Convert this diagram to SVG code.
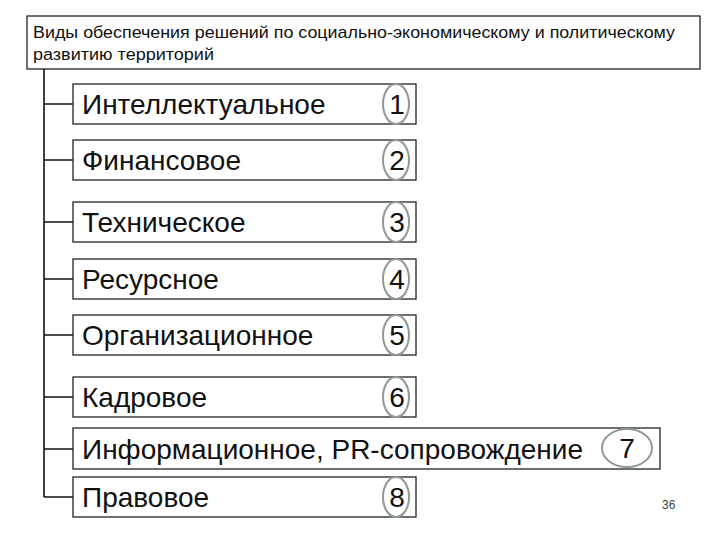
<svg xmlns="http://www.w3.org/2000/svg" width="720" height="540" viewBox="0 0 720 540">
<style>
.box{fill:#fff;stroke:#222;stroke-width:1.3}
.ring{fill:none;stroke:#8e9a92;stroke-width:2}
.t{font-family:"Liberation Sans",Arial,sans-serif;font-size:28px;fill:#111}
.n{font-family:"Liberation Sans",Arial,sans-serif;font-size:28px;fill:#111;text-anchor:middle}
.h{font-family:"Liberation Sans",Arial,sans-serif;font-size:17px;fill:#111}
.c{stroke:#111;stroke-width:1.6;fill:none}
</style>
<rect width="720" height="540" fill="#fff"/>
<g id="title">
<rect class="box" x="27" y="16" width="673" height="53"/>
<text class="h" x="33" y="38" textLength="642" lengthAdjust="spacingAndGlyphs">Виды обеспечения решений по социально-экономическому и политическому</text>
<text class="h" x="33" y="60" textLength="181" lengthAdjust="spacingAndGlyphs">развитию территорий</text>
</g>
<g id="connectors">
<path class="c" d="M44 69V497"/>
<path class="c" d="M44 104H73M44 160H73M44 222H73M44 279H73M44 335H73M44 397H73M44 449H73M44 497H73"/>
</g>
<g id="n1"><rect class="box" x="73" y="84" width="343" height="40"/><text class="t" x="82" y="114">Интеллектуальное</text><ellipse class="ring" cx="396" cy="104" rx="13" ry="20"/><text class="n" x="397" y="114">1</text></g>
<g id="n2"><rect class="box" x="73" y="140" width="343" height="40"/><text class="t" x="82" y="170">Финансовое</text><ellipse class="ring" cx="396" cy="160" rx="13" ry="20"/><text class="n" x="397" y="170">2</text></g>
<g id="n3"><rect class="box" x="73" y="202" width="343" height="40"/><text class="t" x="82" y="232">Техническое</text><ellipse class="ring" cx="396" cy="222" rx="13" ry="20"/><text class="n" x="397" y="232">3</text></g>
<g id="n4"><rect class="box" x="73" y="259" width="343" height="40"/><text class="t" x="82" y="289">Ресурсное</text><ellipse class="ring" cx="396" cy="279" rx="13" ry="20"/><text class="n" x="397" y="289">4</text></g>
<g id="n5"><rect class="box" x="73" y="315" width="343" height="40"/><text class="t" x="82" y="345">Организационное</text><ellipse class="ring" cx="396" cy="335" rx="13" ry="20"/><text class="n" x="397" y="345">5</text></g>
<g id="n6"><rect class="box" x="73" y="377" width="343" height="40"/><text class="t" x="82" y="407">Кадровое</text><ellipse class="ring" cx="396" cy="397" rx="13" ry="20"/><text class="n" x="397" y="407">6</text></g>
<g id="n7"><rect class="box" x="73" y="428" width="587" height="41"/><text class="t" x="82" y="459">Информационное, PR-сопровождение</text><ellipse class="ring" cx="627" cy="448" rx="25" ry="19"/><text class="n" x="627" y="458">7</text></g>
<g id="n8"><rect class="box" x="73" y="477" width="343" height="40"/><text class="t" x="82" y="507">Правовое</text><ellipse class="ring" cx="396" cy="497" rx="13" ry="20"/><text class="n" x="397" y="507">8</text></g>
<text x="662" y="509" font-family="Liberation Sans,Arial,sans-serif" font-size="12" fill="#444">36</text>
</svg>
